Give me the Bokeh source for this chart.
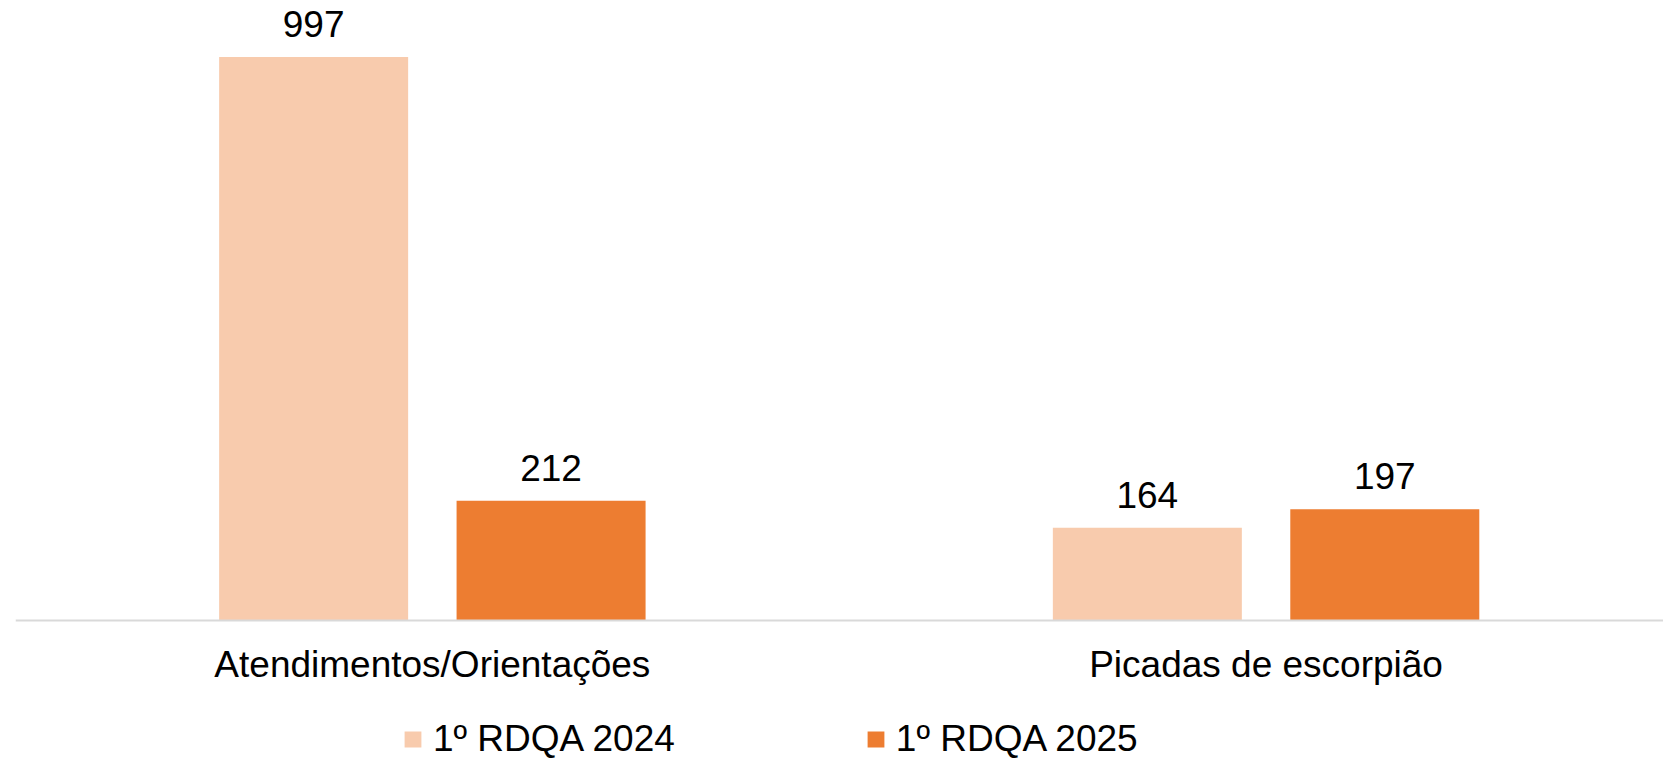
from bokeh.plotting import figure
from bokeh.models import ColumnDataSource, Range1d, FixedTicker, Legend, LegendItem, LabelSet
from bokeh.core.properties import value
from bokeh.transform import dodge
from bokeh.embed import file_html
from bokeh.resources import INLINE

categories = ["Atendimentos/Orientações", "Picadas de escorpião"]
series_names = ["1º RDQA 2024", "1º RDQA 2025"]
values_2024 = [997, 164]
values_2025 = [212, 197]
colors = ["#F8CBAD", "#ED7D31"]

FONT = "Liberation Sans"
idx = list(range(len(categories)))
src = ColumnDataSource(dict(
    idx=idx,
    v2024=values_2024,
    v2025=values_2025,
    l2024=[str(v) for v in values_2024],
    l2025=[str(v) for v in values_2025],
))

p = figure(width=1663, height=761, output_backend="svg", toolbar_location=None,
           x_range=Range1d(-0.5, 1.4767), y_range=Range1d(-249.5, 1097))
p.min_border = 0
p.min_border_left = 15

off = 0.1424
bw = 0.2267
r1 = p.vbar(x=dodge("idx", -off), top="v2024", bottom=0, width=bw, source=src,
            fill_color=colors[0], line_color=None)
r2 = p.vbar(x=dodge("idx", off), top="v2025", bottom=0, width=bw, source=src,
            fill_color=colors[1], line_color=None)

for col, lab, o in (("v2024", "l2024", -off), ("v2025", "l2025", off)):
    p.add_layout(LabelSet(x=dodge("idx", o), y=col, text=lab, source=src,
                          text_align="center", text_baseline="alphabetic", y_offset=20,
                          text_font=value(FONT), text_font_size=value("37px"),
                          text_color=value("black")))

p.yaxis.visible = False
p.grid.visible = False
p.outline_line_color = None

ax = p.xaxis[0]
ax.fixed_location = 0
ax.ticker = FixedTicker(ticks=idx)
ax.major_label_overrides = {i: c for i, c in enumerate(categories)}
ax.major_tick_line_color = None
ax.minor_tick_line_color = None
ax.axis_line_color = "#D9D9D9"
ax.axis_line_width = 2
ax.major_label_text_font = FONT
ax.major_label_text_font_size = "37px"
ax.major_label_text_color = "black"
ax.major_label_standoff = 18

legend = Legend(items=[LegendItem(label=series_names[0], renderers=[r1]),
                       LegendItem(label=series_names[1], renderers=[r2])],
                orientation="horizontal", location=(387, 1),
                glyph_width=21, glyph_height=20, label_standoff=10, spacing=190,
                padding=0, margin=0, border_line_color=None, background_fill_alpha=0,
                label_text_font=FONT, label_text_font_size="37px", label_text_color="black")
p.add_layout(legend, "center")

open("out.html", "w").write(file_html(p, INLINE))
